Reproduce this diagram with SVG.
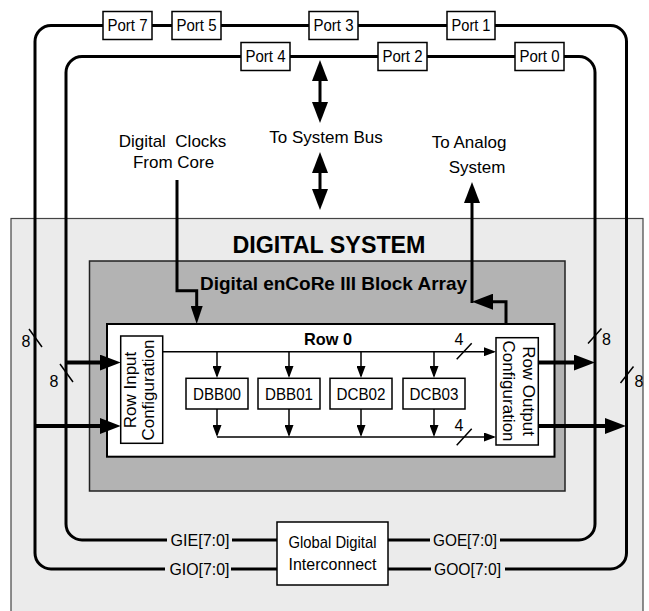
<svg xmlns="http://www.w3.org/2000/svg" width="649" height="611" viewBox="0 0 649 611">
<style>
text{font-family:"Liberation Sans",Arial,sans-serif;fill:#000}
.lbl{font-size:17px}
.port{font-size:16px;text-anchor:middle}
.blk{font-size:17px;text-anchor:middle}
.bus{font-size:16px}
.box{fill:#fff;stroke:#000;stroke-width:1.5}
.loop{fill:none;stroke:#000;stroke-width:3}
.thick{fill:none;stroke:#000;stroke-width:3}
.fat{fill:none;stroke:#000;stroke-width:4}
.thin{fill:none;stroke:#000;stroke-width:1.5}
.mid{text-anchor:middle}
</style>
<defs>
<marker id="ahBig" viewBox="0 0 21 16" refX="11" refY="8" markerWidth="21" markerHeight="16" markerUnits="userSpaceOnUse" orient="auto-start-reverse"><path d="M0,0 L21,8 L0,16 z" fill="#000"/></marker>
<marker id="ahMed" viewBox="0 0 18 12" refX="10" refY="6" markerWidth="18" markerHeight="12" markerUnits="userSpaceOnUse" orient="auto"><path d="M0,0 L18,6 L0,12 z" fill="#000"/></marker>
<marker id="ahSmall" viewBox="0 0 12 9" refX="10" refY="4.5" markerWidth="12" markerHeight="9" markerUnits="userSpaceOnUse" orient="auto"><path d="M0,0 L12,4.5 L0,9 z" fill="#000"/></marker>
</defs>

<g id="digital-system">
<rect x="11" y="218.5" width="632" height="410" fill="#ebebeb" stroke="#444" stroke-width="1.2"/>
<text x="329" y="253" class="mid" style="font-size:24px;font-weight:bold" textLength="193" lengthAdjust="spacingAndGlyphs">DIGITAL SYSTEM</text>
</g>
<g id="block-array">
<rect x="89.5" y="261" width="475.5" height="230" fill="#b3b3b3" stroke="#222" stroke-width="1.5"/>
<text x="333.5" y="290" class="mid" style="font-size:19px;font-weight:bold" textLength="267" lengthAdjust="spacingAndGlyphs">Digital enCoRe III Block Array</text>
</g>
<g id="row0">
<rect x="107" y="324" width="447.5" height="132.7" fill="#fff" stroke="#000" stroke-width="2"/>
<text x="328" y="345" class="mid" style="font-size:17px;font-weight:bold" textLength="48" lengthAdjust="spacingAndGlyphs">Row 0</text>
</g>

<g id="connectors">
<path class="loop" d="M165,569 H51 A16,16 0 0 1 35,553 V41.5 A16,16 0 0 1 51,25.5 H610.5 A16,16 0 0 1 626.5,41.5 V553 A16,16 0 0 1 610.5,569 H505"/>
<path class="loop" d="M231,569 H277 M388,569 H431"/>
<path class="loop" d="M167,540 H82 A16,16 0 0 1 66,524 V72.5 A16,16 0 0 1 82,56.5 H579 A16,16 0 0 1 595,72.5 V524 A16,16 0 0 1 579,540 H500"/>
<path class="loop" d="M232,540 H277 M388,540 H430"/>
<line class="thick" x1="320" y1="70" x2="320" y2="113" marker-start="url(#ahBig)" marker-end="url(#ahBig)"/>
<line class="thick" x1="320" y1="162" x2="320" y2="200" marker-start="url(#ahBig)" marker-end="url(#ahBig)"/>
<path class="thick" d="M177,180 V290.7 H196.7 V316" marker-end="url(#ahMed)"/>
<path class="thick" d="M506,324 V301.7 H482" marker-end="url(#ahBig)"/>
<path class="thick" d="M472,303 V192" marker-end="url(#ahBig)"/>
<line class="fat" x1="66" y1="362.5" x2="110.7" y2="362.5" marker-end="url(#ahBig)"/>
<line class="fat" x1="35" y1="426" x2="110.7" y2="426" marker-end="url(#ahBig)"/>
<line class="fat" x1="538.3" y1="362.5" x2="585" y2="362.5" marker-end="url(#ahBig)"/>
<line class="fat" x1="538.3" y1="426" x2="616" y2="426" marker-end="url(#ahBig)"/>
<path class="thin" d="M162.7,351.7 H494" marker-end="url(#ahSmall)"/>
<line class="thin" x1="217" y1="351.7" x2="217" y2="376" marker-end="url(#ahSmall)"/>
<line class="thin" x1="289" y1="351.7" x2="289" y2="376" marker-end="url(#ahSmall)"/>
<line class="thin" x1="361" y1="351.7" x2="361" y2="376" marker-end="url(#ahSmall)"/>
<line class="thin" x1="434" y1="351.7" x2="434" y2="376" marker-end="url(#ahSmall)"/>
<line class="thin" x1="217" y1="409" x2="217" y2="435" marker-end="url(#ahSmall)"/>
<line class="thin" x1="289" y1="409" x2="289" y2="435" marker-end="url(#ahSmall)"/>
<line class="thin" x1="361" y1="409" x2="361" y2="435" marker-end="url(#ahSmall)"/>
<line class="thin" x1="434" y1="409" x2="434" y2="435" marker-end="url(#ahSmall)"/>
<path class="thin" d="M217,437 H494" marker-end="url(#ahSmall)"/>
<path class="thin" d="M456.7,359.3 L471.7,343.3 M456.7,445.3 L471.7,428.7"/>
<path class="thin" d="M29,329 L42,347 M60,364 L73,382 M588,343.5 L601.5,328.5 M620.5,383 L633.5,366.5"/>
<text x="459" y="345" class="bus mid">4</text>
<text x="459" y="430.5" class="bus mid">4</text>
<text x="26" y="346.5" class="bus mid">8</text>
<text x="54" y="386.5" class="bus mid">8</text>
<text x="606.5" y="345" class="bus mid">8</text>
<text x="639" y="386.5" class="bus mid">8</text>
<text x="200" y="546" class="bus mid" textLength="59" lengthAdjust="spacingAndGlyphs">GIE[7:0]</text>
<text x="199.5" y="575" class="bus mid" textLength="60" lengthAdjust="spacingAndGlyphs">GIO[7:0]</text>
<text x="465" y="546" class="bus mid" textLength="64" lengthAdjust="spacingAndGlyphs">GOE[7:0]</text>
<text x="467.5" y="575" class="bus mid" textLength="67" lengthAdjust="spacingAndGlyphs">GOO[7:0]</text>
</g>

<g id="labels">
<text x="172.5" y="147" class="lbl mid" xml:space="preserve">Digital  Clocks</text>
<text x="173.5" y="168" class="lbl mid">From Core</text>
<text x="326" y="143" class="lbl mid">To System Bus</text>
<text x="469" y="148" class="lbl mid">To Analog</text>
<text x="477" y="173" class="lbl mid">System</text>
</g>

<g id="port7"><rect class="box" x="103" y="11.5" width="49" height="28"/><text class="port" x="127.5" y="31.3" textLength="40" lengthAdjust="spacingAndGlyphs">Port 7</text></g>
<g id="port5"><rect class="box" x="172" y="11.5" width="49" height="28"/><text class="port" x="196.5" y="31.3" textLength="40" lengthAdjust="spacingAndGlyphs">Port 5</text></g>
<g id="port3"><rect class="box" x="309" y="11.5" width="49" height="28"/><text class="port" x="333.5" y="31.3" textLength="40" lengthAdjust="spacingAndGlyphs">Port 3</text></g>
<g id="port1"><rect class="box" x="447" y="11.5" width="48" height="28"/><text class="port" x="471" y="31.3" textLength="39" lengthAdjust="spacingAndGlyphs">Port 1</text></g>
<g id="port4"><rect class="box" x="241" y="42.5" width="49" height="28"/><text class="port" x="265.5" y="62.3" textLength="40" lengthAdjust="spacingAndGlyphs">Port 4</text></g>
<g id="port2"><rect class="box" x="378" y="42.5" width="49" height="28"/><text class="port" x="402.5" y="62.3" textLength="40" lengthAdjust="spacingAndGlyphs">Port 2</text></g>
<g id="port0"><rect class="box" x="515" y="42.5" width="49" height="28"/><text class="port" x="539.5" y="62.3" textLength="40" lengthAdjust="spacingAndGlyphs">Port 0</text></g>

<g id="row-input-config"><rect class="box" x="120.7" y="336" width="42" height="107.3"/>
<g transform="translate(141.7,390) rotate(-90)"><text class="lbl mid" x="0" y="-6.2">Row Input</text><text class="lbl mid" x="0" y="12.6">Configuration</text></g></g>
<g id="row-output-config"><rect class="box" x="496" y="337.7" width="42.3" height="107.3"/>
<g transform="translate(517,391) rotate(90)"><text class="lbl mid" x="0" y="-5.8">Row Output</text><text class="lbl mid" x="0" y="14.2">Configuration</text></g></g>

<g id="dbb00"><rect class="box" x="186" y="378.3" width="62" height="30.7"/><text class="blk" x="217" y="399.8" textLength="48" lengthAdjust="spacingAndGlyphs">DBB00</text></g>
<g id="dbb01"><rect class="box" x="258" y="378.3" width="62" height="30.7"/><text class="blk" x="289" y="399.8" textLength="48" lengthAdjust="spacingAndGlyphs">DBB01</text></g>
<g id="dcb02"><rect class="box" x="330" y="378.3" width="62" height="30.7"/><text class="blk" x="361" y="399.8" textLength="49" lengthAdjust="spacingAndGlyphs">DCB02</text></g>
<g id="dcb03"><rect class="box" x="403" y="378.3" width="62" height="30.7"/><text class="blk" x="434" y="399.8" textLength="49" lengthAdjust="spacingAndGlyphs">DCB03</text></g>

<g id="global-digital-interconnect"><rect class="box" x="277" y="522" width="111" height="63"/>
<text class="blk" x="332.5" y="548" textLength="88" lengthAdjust="spacingAndGlyphs">Global Digital</text>
<text class="blk" x="332.5" y="570" textLength="88" lengthAdjust="spacingAndGlyphs">Interconnect</text></g>
</svg>
